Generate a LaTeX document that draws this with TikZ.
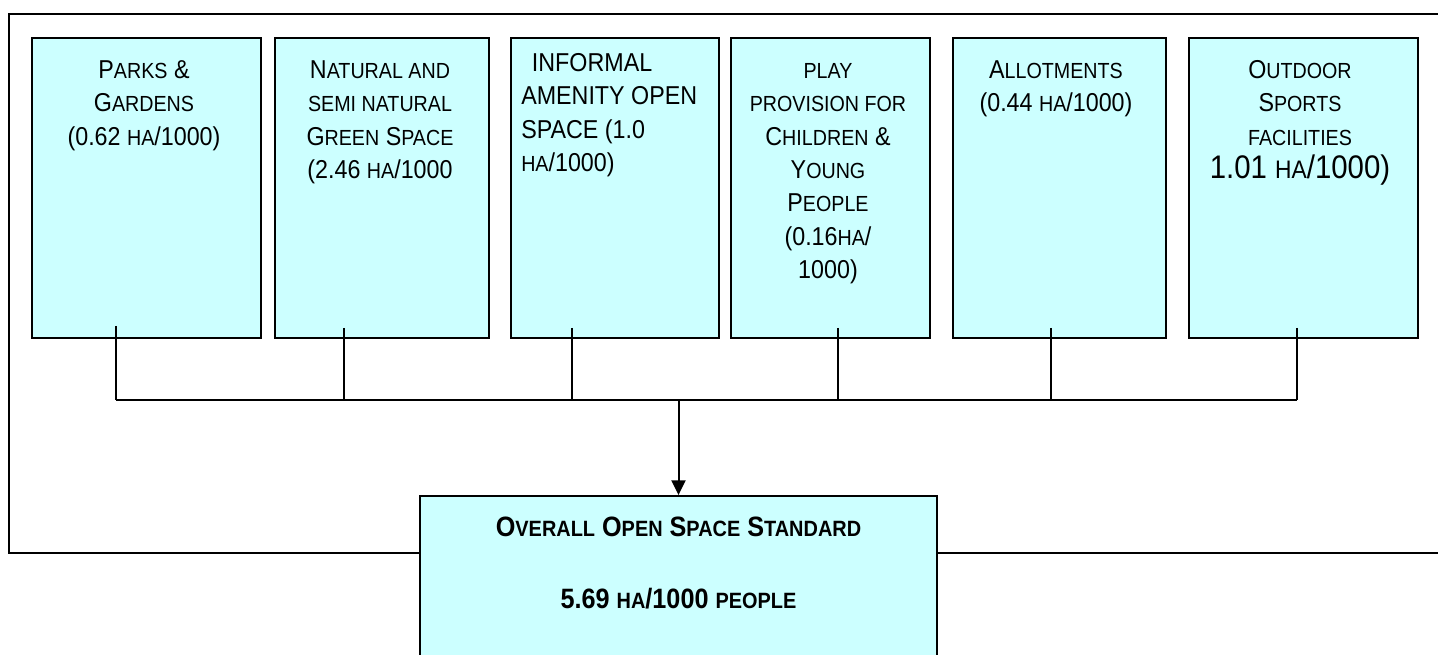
\documentclass[tikz,border=0pt]{standalone}
\usepackage{fontspec}
\setmainfont[FakeStretch=0.9]{Liberation Sans}
\usetikzlibrary{arrows.meta}
\definecolor{boxfill}{HTML}{CCFFFF}
\newcommand\smc[1]{{\fontsize{16.4}{25}\selectfont #1}}
\newcommand\bsmc[1]{{\fontsize{16.6}{25}\selectfont #1}}
\begin{document}
\begin{tikzpicture}[x=0.75pt,y=-0.75pt,
  box/.style={draw=black, line width=1.4pt, fill=boxfill, inner sep=0pt},
  frameline/.style={draw=black, line width=1.5pt},
  conn/.style={draw=black, line width=1.1pt},
  txt/.style={anchor=north, inner sep=0pt, align=center, font=\fontsize{19.4}{25}\selectfont},
  btxt/.style={anchor=base, inner sep=0pt, font=\fontsize{21}{25}\selectfont\bfseries}]
\useasboundingbox (0,0) rectangle (1438,655);
\clip (0,0) rectangle (1438,655);
% outer frame (right edge outside the picture)
\draw[frameline] (1460,14) -| (9,553) -- (1460,553);
% category boxes
\node[box, minimum width={229*0.75pt}, minimum height={300*0.75pt}] (b1) at (146.5,188) {};
\node[box, minimum width={214*0.75pt}, minimum height={300*0.75pt}] (b2) at (382,188) {};
\node[box, minimum width={208*0.75pt}, minimum height={300*0.75pt}] (b3) at (615,188) {};
\node[box, minimum width={199*0.75pt}, minimum height={300*0.75pt}] (b4) at (830.5,188) {};
\node[box, minimum width={213*0.75pt}, minimum height={300*0.75pt}] (b5) at (1059.5,188) {};
\node[box, minimum width={229*0.75pt}, minimum height={300*0.75pt}] (b6) at (1303.5,188) {};
% texts
\node[txt] (t1) at (144,55) {\strut P\smc{ARKS} \&\\G\smc{ARDENS}\\(0.62 \smc{HA}/1000)};
\node[txt] (t2) at (380,55) {\strut N\smc{ATURAL AND}\\\smc{SEMI NATURAL}\\G\smc{REEN} S\smc{PACE}\\(2.46 \smc{HA}/1000};
\node[txt, anchor=north west, align=left] (t3) at (521,48) {\strut\hspace{8pt}INFORMAL\\AMENITY OPEN\\SPACE (1.0\\\smc{HA}/1000)};
\node[txt] (t4) at (828,55) {\strut\smc{PLAY}\\\smc{PROVISION FOR}\\C\smc{HILDREN} \&\\Y\smc{OUNG}\\P\smc{EOPLE}\\(0.16\smc{HA}/\\1000)};
\node[txt] (t5) at (1056,55) {\strut A\smc{LLOTMENTS}\\(0.44 \smc{HA}/1000)};
\node[txt] (t6) at (1300,55) {\strut O\smc{UTDOOR}\\S\smc{PORTS}\\\smc{FACILITIES}\\{\fontsize{24.5}{25}\selectfont 1.01 {\fontsize{19}{25}\selectfont HA}/1000)}};
% connector coordinates
\coordinate (c1) at (116,326);  \coordinate (j1) at (116,400);
\coordinate (c2) at (344,328);  \coordinate (j2) at (344,400);
\coordinate (c3) at (572,328);  \coordinate (j3) at (572,400);
\coordinate (c4) at (838,328);  \coordinate (j4) at (838,400);
\coordinate (c5) at (1051,328); \coordinate (j5) at (1051,400);
\coordinate (c6) at (1297,328); \coordinate (j6) at (1297,400);
\coordinate (jm) at (678.5,400);
\draw[conn] (c1) -- (j1);
\draw[conn] (c2) -- (j2);
\draw[conn] (c3) -- (j3);
\draw[conn] (c4) -- (j4);
\draw[conn] (c5) -- (j5);
\draw[conn] (c6) -- (j6);
\draw[conn] (j1) -- (j6);
% result box
\node[box, minimum width={517*0.75pt}, minimum height={220*0.75pt}] (b7) at (678.5,606) {};
\draw[conn, line width=1.5pt, -{Triangle[length=11pt,width=10.5pt]}] (jm) -- (b7.north);
\node[btxt] (r1) at (678.5,537) {O\bsmc{VERALL} O\bsmc{PEN} S\bsmc{PACE} S\bsmc{TANDARD}};
\node[btxt] (r2) at (678.5,608) {5.69 \bsmc{HA}/1000 \bsmc{PEOPLE}};
\end{tikzpicture}
\end{document}
